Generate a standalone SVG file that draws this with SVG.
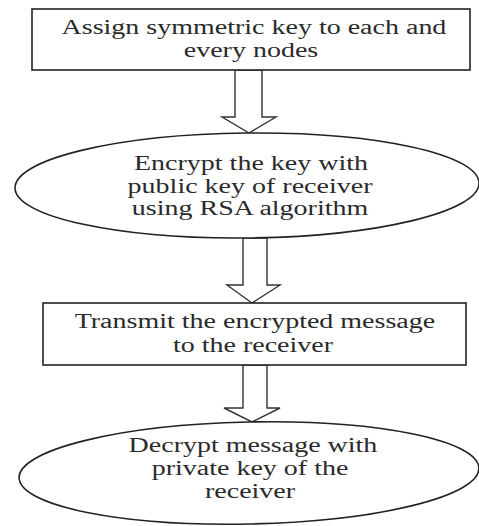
<svg xmlns="http://www.w3.org/2000/svg" width="479" height="526" viewBox="0 0 479 526">
<style>
.shape{fill:#fff;stroke:#222;stroke-width:1.6}
.arrow{fill:#fff;stroke:#333;stroke-width:1.4;stroke-linejoin:miter}
.t{font-family:'Liberation Serif','Times New Roman','DejaVu Serif',serif;font-size:20px;fill:#2a2a2a;text-anchor:middle}
</style>
<rect width="479" height="526" fill="#fff"/>
<g id="connectors">
<polygon class="arrow" points="235,70 262,70 262,117 276,117 249,133 222,117 235,117"/>
<polygon class="arrow" points="243,238 267,238 267,285 280,285 252,303 227,285 243,285"/>
<polygon class="arrow" points="243,365 267,365 267,408 280,408 252,422 224,408 243,408"/>
</g>
<g id="node1">
<rect class="shape" x="32" y="9" width="438" height="61"/>
<g transform="scale(1.4 1)">
<text class="t" x="181.4" y="34">Assign symmetric key to each and</text>
<text class="t" x="179.3" y="57">every nodes</text>
</g>
</g>
<g id="node2">
<ellipse class="shape" cx="247" cy="185.5" rx="232" ry="52.5" transform="rotate(-0.6 247 185.5)"/>
<g transform="scale(1.4 1)">
<text class="t" x="179.3" y="170">Encrypt the key with</text>
<text class="t" x="178.6" y="193">public key of receiver</text>
<text class="t" x="178.6" y="215">using RSA algorithm</text>
</g>
</g>
<g id="node3">
<rect class="shape" x="43" y="303" width="423" height="62"/>
<g transform="scale(1.4 1)">
<text class="t" x="182.1" y="328">Transmit the encrypted message</text>
<text class="t" x="180.7" y="352">to the receiver</text>
</g>
</g>
<g id="node4">
<ellipse class="shape" cx="249" cy="473" rx="230" ry="51" transform="rotate(-1.2 249 473)"/>
<g transform="scale(1.4 1)">
<text class="t" x="180.7" y="452">Decrypt message with</text>
<text class="t" x="178.6" y="475">private key of the</text>
<text class="t" x="178.6" y="498">receiver</text>
</g>
</g>
</svg>
